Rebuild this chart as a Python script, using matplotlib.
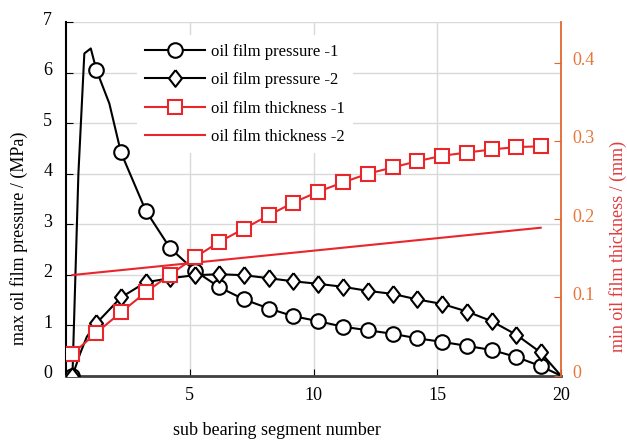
import matplotlib
matplotlib.use("Agg")
import matplotlib.pyplot as plt
from matplotlib.transforms import ScaledTranslation
from matplotlib.lines import Line2D

plt.rcParams['font.family'] = ['Liberation Serif', 'DejaVu Serif']

# 子轴承段位置（标记点所在的横坐标）
seg_x = [0.26, 1.23, 2.22, 3.22, 4.2, 5.2, 6.2, 7.2, 8.2, 9.18,
         10.19, 11.2, 12.2, 13.2, 14.2, 15.21, 16.21, 17.2, 18.2, 19.18]

# 最大油膜压力 (MPa)
p1 = [0, 6.05, 4.42, 3.27, 2.53, 2.08, 1.75, 1.51, 1.33, 1.18,
      1.08, 0.97, 0.90, 0.83, 0.74, 0.67, 0.59, 0.51, 0.37, 0.19]
p2 = [0, 1.04, 1.55, 1.85, 1.93, 1.99, 2.01, 1.99, 1.93, 1.87,
      1.82, 1.76, 1.68, 1.62, 1.51, 1.42, 1.27, 1.08, 0.81, 0.46]

# 压力曲线在端部的附加读数点
p1_head_x = [0.26, 0.5, 0.74, 1.0, 1.23, 1.75, 2.22]
p1_head_y = [0, 4.0, 6.38, 6.48, 6.05, 5.39, 4.42]
p2_head_x = [0.26, 0.57, 0.84, 1.23]
p2_head_y = [0, 0.44, 0.77, 1.04]
end_x = [20]
end_y = [0]

# 最小油膜厚度 (mm)
h1 = [0.028, 0.055, 0.081, 0.1065, 0.129, 0.151, 0.171, 0.188, 0.205, 0.221,
      0.235, 0.247, 0.258, 0.266, 0.274, 0.281, 0.285, 0.289, 0.292, 0.293]
h2_x = [0.26, 19.18]
h2 = [0.1286, 0.189]

labels = ['oil film pressure -1', 'oil film pressure -2',
          'oil film thickness -1', 'oil film thickness -2']

red = '#e8262b'
orange = '#e2662e'

# 拼接曲线数据
l1x = p1_head_x + seg_x[3:] + end_x
l1y = p1_head_y + p1[3:] + end_y
l2x = p2_head_x + seg_x[2:] + end_x
l2y = p2_head_y + p2[2:] + end_y

fig, ax = plt.subplots(figsize=(6.27, 4.41), dpi=100)
fig.subplots_adjust(left=0.1053, right=0.8947, bottom=0.148, top=0.9497)

diamond = [(0, 1), (0.78, 0), (0, -1), (-0.78, 0), (0, 1)]

ax.plot(l1x, l1y, color='black', lw=1.5, zorder=3)
ax.plot(seg_x, p1, ls='none', marker='o', ms=10.5, mfc='white', mec='black', mew=1.5, zorder=4)
ax.plot(l2x, l2y, color='black', lw=1.5, zorder=3)
ax.plot(seg_x, p2, ls='none', marker=diamond, ms=12, mfc='white', mec='black', mew=1.5, zorder=4)

ax.set_xlim(0, 20)
ax.set_ylim(0, 7)
ax.set_xticks([5, 10, 15, 20])
ax.set_yticks(range(8))
ax.grid(True, color='#d9d9d9', lw=1)
ax.set_axisbelow(True)
ax.tick_params(axis='both', direction='in', labelsize=13, length=5, colors='black')
ax.tick_params(axis='y', pad=10)
ax.tick_params(axis='x', pad=8)
ax.spines['top'].set_visible(False)
ax.spines['right'].set_visible(False)
ax.spines['left'].set_linewidth(1.5)
ax.spines['bottom'].set_linewidth(2)
ax.spines['bottom'].set_color('#404040')
ax.set_xlabel('sub bearing segment number', fontsize=13)
ax.xaxis.set_label_coords(0.426, -0.13)
ax.set_ylabel('max oil film pressure / (MPa)', fontsize=13)
ax.yaxis.set_label_coords(-0.077, 0.39)

ax2 = ax.twinx()
ax2.plot(seg_x, h1, color=red, lw=1.5, marker='s', ms=9.5, mfc='white', mec=red, mew=1.5, zorder=4)
ax2.plot(h2_x, h2, color=red, lw=1.5, zorder=3)
ax2.set_ylim(0, 0.4515)
ax2.set_yticks([0, 0.1, 0.2, 0.3, 0.4])
ax2.set_yticklabels(['0', '0.1', '0.2', '0.3', '0.4'])
ax2.tick_params(axis='y', direction='in', labelsize=13, length=5, color=orange,
                labelcolor='#e8763a', pad=8)
for s in ['top', 'left', 'bottom']:
    ax2.spines[s].set_visible(False)
ax2.spines['right'].set_color(orange)
ax2.spines['right'].set_linewidth(1.3)
ax2.set_ylabel('min oil film thickness / (mm)', fontsize=13, color='#e03c3c')
ax2.yaxis.set_label_coords(1.097, 0.367)

# 刻度标签略微上移
shift = ScaledTranslation(0, 4 / 100, fig.dpi_scale_trans)
for lab in ax.get_yticklabels() + ax2.get_yticklabels():
    lab.set_transform(lab.get_transform() + shift)

h_list = [
    Line2D([], [], color='black', lw=1.5, marker='o', ms=10.5, mfc='white', mec='black', mew=1.5),
    Line2D([], [], color='black', lw=1.5, marker=diamond, ms=12, mfc='white', mec='black', mew=1.5),
    Line2D([], [], color=red, lw=1.5, marker='s', ms=9.5, mfc='white', mec=red, mew=1.5),
    Line2D([], [], color=red, lw=1.5),
]
leg = ax2.legend(h_list, labels, loc='upper left', bbox_to_anchor=(0.143, 0.963),
                 fontsize=12, frameon=True, facecolor='white', edgecolor='none',
                 framealpha=1, fancybox=False, handlelength=3.6, handletextpad=0.35,
                 labelspacing=0.75, borderpad=0.5, borderaxespad=0)

plt.savefig('out.png', dpi=100)
